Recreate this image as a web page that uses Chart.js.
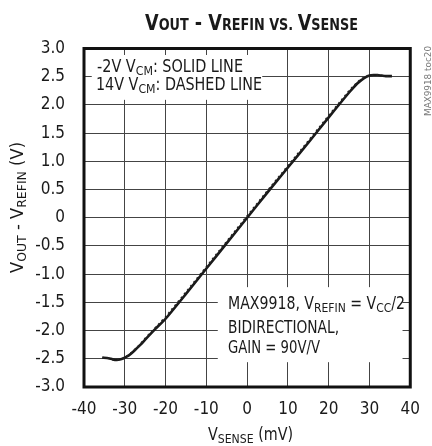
<!DOCTYPE html>
<html>
<head>
<meta charset="utf-8">
<script src="https://cdn.jsdelivr.net/npm/chart.js@4/dist/chart.umd.min.js"></script>
<style>
  html, body { margin: 0; padding: 0; background: #fff; }
  #wrap { width: 432px; height: 446px; }
</style>
</head>
<body>
<div id="wrap"><canvas id="chart" width="432" height="446"></canvas></div>
<script>
const FONT = "'Liberation Sans Narrow', 'DejaVu Sans Condensed', 'Liberation Sans', sans-serif";

// V_SENSE in mV (shared x values for both traces)
const senseMv = [-35.5, -34, -33, -32, -31, -30, -29, -28, -27, -26, -25, -22.5, -20, -15, -10, -5,
  0, 5, 10, 15, 20, 25, 27, 28, 29, 30, 31, 32, 33, 34, 35.5];
// -2V VCM (solid)
const solidOut = [-2.48, -2.49, -2.51, -2.52, -2.51, -2.48, -2.44, -2.38, -2.31, -2.24, -2.16, -1.97, -1.79, -1.35, -0.90, -0.45,
  0.0, 0.45, 0.89, 1.33, 1.78, 2.22, 2.38, 2.44, 2.49, 2.52, 2.53, 2.53, 2.52, 2.51, 2.51];
// 14V VCM (dashed)
const dashedOut = [-2.48, -2.49, -2.51, -2.52, -2.51, -2.48, -2.43, -2.37, -2.30, -2.22, -2.14, -1.95, -1.76, -1.32, -0.87, -0.42,
  0.03, 0.48, 0.92, 1.36, 1.81, 2.25, 2.40, 2.46, 2.50, 2.52, 2.53, 2.53, 2.52, 2.51, 2.51];

const xTicks = [-40, -30, -20, -10, 0, 10, 20, 30, 40];
const yTicks = ['-3.0', '-2.5', '-2.0', '-1.5', '-1.0', '-0.5', '0', '0.5', '1.0', '1.5', '2.0', '2.5', '3.0'];

// text boxes, in data units: [xMin, yTop, xMax, yBottom]
const legendBox = [-38.1, 2.885, 3.7, 2.09];
const noteBox = [-7.2, -1.23, 38.1, -2.56];

function drawRich(ctx, parts, x, y, opts) {
  opts = opts || {};
  const weight = opts.bold ? 'bold ' : '';
  let w = 0;
  parts.forEach(p => {
    ctx.font = weight + p[1] + 'px ' + FONT;
    w += ctx.measureText(p[0]).width;
  });
  const sx = opts.width ? opts.width / w : 1;
  ctx.save();
  ctx.fillStyle = opts.color || '#1a1a1a';
  ctx.textBaseline = 'alphabetic';
  ctx.textAlign = 'left';
  ctx.translate(x, y);
  if (opts.rotate) ctx.rotate(opts.rotate);
  const tw = w * sx;
  ctx.translate(opts.align === 'center' ? -tw / 2 : opts.align === 'right' ? -tw : 0, 0);
  ctx.scale(sx, 1);
  let cx = 0;
  parts.forEach(p => {
    ctx.font = weight + p[1] + 'px ' + FONT;
    ctx.fillText(p[0], cx, p[2] || 0);
    cx += ctx.measureText(p[0]).width;
  });
  ctx.restore();
}

const decor = {
  id: 'decor',
  afterDatasetsDraw(chart) {
    const { ctx, scales: { x, y } } = chart;
    ctx.save();
    ctx.fillStyle = '#fff';
    [legendBox, noteBox].forEach(b => {
      const l = x.getPixelForValue(b[0]), r = x.getPixelForValue(b[2]);
      const t = y.getPixelForValue(b[1]), bt = y.getPixelForValue(b[3]);
      ctx.fillRect(l, t, r - l, bt - t);
    });
    ctx.restore();
  },
  afterDraw(chart) {
    const { ctx, chartArea: a } = chart;
    ctx.save();
    ctx.strokeStyle = '#111';
    ctx.lineWidth = 3;
    ctx.strokeRect(a.left, a.top, a.right - a.left, a.bottom - a.top);
    ctx.restore();

    // title
    drawRich(ctx, [['V', 22], ['OUT', 16], [' - ', 22], ['V', 22], ['REFIN', 16], [' VS. ', 16], ['V', 22], ['SENSE', 16]],
      251.5, 30, { bold: true, align: 'center', width: 213 });
    // axis titles
    drawRich(ctx, [['V', 17], ['SENSE', 13, 3], [' (mV)', 17]], 250.5, 440, { align: 'center', width: 85 });
    drawRich(ctx, [['V', 17], ['OUT', 13, 3], [' - V', 17], ['REFIN', 13, 3], [' (V)', 17]], 23, 207.5,
      { align: 'center', width: 131, rotate: -Math.PI / 2 });
    // legend text
    drawRich(ctx, [['-2V V', 17], ['CM', 13, 3], [': SOLID LINE', 17]], 97, 72, { width: 146 });
    drawRich(ctx, [['14V V', 17], ['CM', 13, 3], [': DASHED LINE', 17]], 96, 90, { width: 166 });
    // note text
    drawRich(ctx, [['MAX9918, V', 17], ['REFIN', 13, 3], [' = V', 17], ['CC', 13, 3], ['/2', 17]], 228, 309, { width: 177 });
    drawRich(ctx, [['BIDIRECTIONAL,', 17]], 228, 333, { width: 111 });
    drawRich(ctx, [['GAIN = 90V/V', 17]], 228, 353, { width: 92 });
    // figure id
    drawRich(ctx, [['MAX9918 toc20', 9]], 431, 81, { align: 'center', width: 70, rotate: -Math.PI / 2, color: '#777' });
  }
};

const tickFont = { family: FONT, size: 17 };

new Chart(document.getElementById('chart'), {
  type: 'line',
  data: {
    datasets: [
      {
        label: '14V VCM',
        data: senseMv.map((v, i) => ({ x: v, y: dashedOut[i] })),
        borderColor: '#222',
        borderWidth: 1.8,
        borderDash: [2, 3],
        pointRadius: 0,
        tension: 0
      },
      {
        label: '-2V VCM',
        data: senseMv.map((v, i) => ({ x: v, y: solidOut[i] })),
        borderColor: '#1a1a1a',
        borderWidth: 2.6,
        pointRadius: 0,
        tension: 0.2
      }
    ]
  },
  options: {
    responsive: false,
    animation: false,
    layout: { padding: { top: 48.5, right: 10.5, left: 0, bottom: 0 } },
    plugins: { legend: { display: false }, tooltip: { enabled: false } },
    scales: {
      x: {
        type: 'linear',
        min: -40,
        max: 40,
        afterBuildTicks: s => { s.ticks = xTicks.map(v => ({ value: v })); },
        afterFit: s => { s.height = 59; },
        grid: { color: '#444', lineWidth: 1, drawTicks: false },
        border: { display: false },
        ticks: { color: '#1a1a1a', font: tickFont, padding: 12, maxRotation: 0 }
      },
      y: {
        type: 'linear',
        min: -3,
        max: 3,
        afterBuildTicks: s => { s.ticks = yTicks.map(v => ({ value: Number(v) })); },
        afterFit: s => { s.width = 84; },
        grid: { color: '#444', lineWidth: 1, drawTicks: false },
        border: { display: false },
        ticks: {
          color: '#1a1a1a', font: tickFont, padding: 19,
          callback: v => yTicks.find(t => Number(t) === v)
        }
      }
    }
  },
  plugins: [decor]
});
</script>
</body>
</html>
